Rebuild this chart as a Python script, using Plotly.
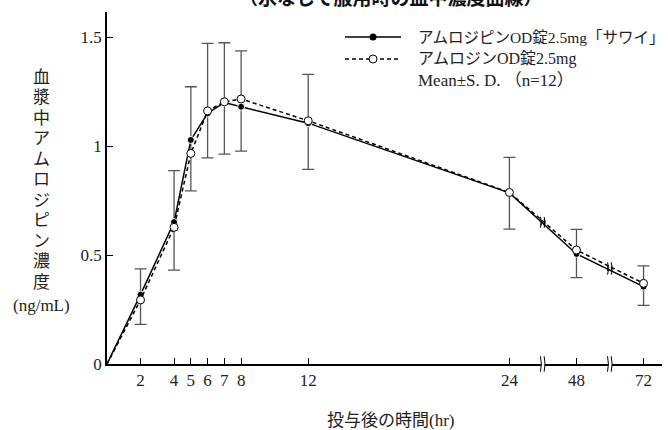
import plotly.graph_objects as go

# ---- data ----
hours = [0, 2, 4, 5, 6, 7, 8, 12, 24, 48, 72]
sawai_mean = [0, 0.318, 0.651, 1.028, 1.150, 1.200, 1.180, 1.105, 0.785, 0.505, 0.355]
ref_mean = [0, 0.294, 0.627, 0.966, 1.161, 1.203, 1.216, 1.116, 0.787, 0.523, 0.370]
sawai_sd = [0, 0.118, 0.236, 0.244, 0.321, 0.274, 0.257, 0.224, 0.163, 0.113, 0.095]
ref_sd = [0, 0.112, 0.196, 0.172, 0.215, 0.240, 0.239, 0.223, 0.168, 0.127, 0.101]
x_tick_hours = [2, 4, 5, 6, 7, 8, 12, 24, 48, 72]
y_tick_vals = [0, 0.5, 1, 1.5]
y_tick_text = ["0", "0.5", "1", "1.5"]
label_sawai = "アムロジピンOD錠2.5mg「サワイ」"
label_ref = "アムロジンOD錠2.5mg"
label_stat = "Mean±S. D. （n=12）"
title_text = "（水なしで服用時の血中濃度曲線）"
y_title_main = "血漿中アムロジピン濃度"
y_title_unit = "(ng/mL)"
x_title = "投与後の時間(hr)"

# ---- broken-axis mapping: hours after 24 are compressed (4 units per segment) ----
BREAK_AFTER = 24
SEG = 4
late = [h for h in hours if h > BREAK_AFTER]


def pos(h):
    if h <= BREAK_AFTER:
        return h
    return BREAK_AFTER + SEG * (late.index(h) + 1)


xp = [pos(h) for h in hours]
breaks = [BREAK_AFTER + SEG * (i + 0.5) for i in range(len(late))]

SERIF = "Liberation Serif, Noto Sans CJK JP, serif"
W, H = 668, 430
ML, MR, MT, MB = 107, 6, 12, 66
PW, PH = W - ML - MR, H - MT - MB


def px_to_paper_x(px):
    return (px - ML) / PW


def px_to_paper_y(py):
    return (H - MB - py) / PH


fig = go.Figure()

# error bars: upper = sawai mean + SD, lower = reference mean - SD
idx = list(range(1, len(hours)))
fig.add_trace(go.Scatter(
    x=[xp[i] for i in idx], y=[sawai_mean[i] for i in idx], mode="markers",
    marker=dict(size=1, opacity=0), showlegend=False, hoverinfo="skip",
    error_y=dict(type="data", symmetric=False,
                 array=[sawai_sd[i] for i in idx],
                 arrayminus=[sawai_mean[i] - (ref_mean[i] - ref_sd[i]) for i in idx],
                 color="#555555", thickness=1.3, width=6),
))

msize_f = [0] + [7] * (len(hours) - 1)
msize_o = [0] + [8] * (len(hours) - 1)
fig.add_trace(go.Scatter(
    x=xp, y=sawai_mean, mode="lines+markers", name=label_sawai,
    line=dict(color="black", width=1.5),
    marker=dict(symbol="circle", size=msize_f, color="black", opacity=1), showlegend=False))
fig.add_trace(go.Scatter(
    x=xp, y=ref_mean, mode="lines+markers", name=label_ref,
    line=dict(color="black", width=1.5, dash="4px,3px"),
    marker=dict(symbol="circle", size=msize_o, color="#ffffff", opacity=1,
                line=dict(color="black", width=1)),
    showlegend=False))

# ---- custom legend on an overlay axis in 0..1 units ----
LX0, LX1, LXM, LXT = px_to_paper_x(345), px_to_paper_x(401), px_to_paper_x(373), px_to_paper_x(416)
ROWS = [px_to_paper_y(37), px_to_paper_y(59), px_to_paper_y(80)]
fig.add_trace(go.Scatter(x=[LX0, LX1], y=[ROWS[0]] * 2, xaxis="x2", yaxis="y2", mode="lines",
                         line=dict(color="black", width=1.5), showlegend=False, hoverinfo="skip"))
fig.add_trace(go.Scatter(x=[LXM], y=[ROWS[0]], xaxis="x2", yaxis="y2", mode="markers",
                         marker=dict(size=7, color="black"), showlegend=False, hoverinfo="skip"))
fig.add_trace(go.Scatter(x=[LX0, LX1], y=[ROWS[1]] * 2, xaxis="x2", yaxis="y2", mode="lines",
                         line=dict(color="black", width=1.5, dash="4px,3px"), showlegend=False, hoverinfo="skip"))
fig.add_trace(go.Scatter(x=[LXM], y=[ROWS[1]], xaxis="x2", yaxis="y2", mode="markers",
                         marker=dict(size=8, color="white", line=dict(color="black", width=1)),
                         showlegend=False, hoverinfo="skip"))

annotations = []
for txt, ry, fs in zip([label_sawai, label_ref, label_stat], ROWS, [15.5, 16, 17]):
    annotations.append(dict(x=LXT, y=ry, xref="paper", yref="paper", text=txt, showarrow=False,
                            xanchor="left", yanchor="middle", font=dict(family=SERIF, size=fs, color="#222")))
annotations.append(dict(x=px_to_paper_x(390), y=px_to_paper_y(-3), xref="paper", yref="paper",
                        text=title_text, showarrow=False, xanchor="center", yanchor="middle",
                        font=dict(family="Noto Sans CJK JP", size=19, color="#111", weight="bold")))
# vertical y-axis title, one character per line
for i, ch in enumerate(y_title_main):
    annotations.append(dict(x=px_to_paper_x(41), y=px_to_paper_y(77 + 20.5 * i), xref="paper", yref="paper",
                            text=ch, showarrow=False, xanchor="center", yanchor="middle",
                            font=dict(family=SERIF, size=17, color="#222")))
annotations.append(dict(x=px_to_paper_x(41), y=px_to_paper_y(305), xref="paper", yref="paper",
                        text=y_title_unit, showarrow=False, xanchor="center", yanchor="middle",
                        font=dict(family=SERIF, size=17, color="#222")))
annotations.append(dict(x=px_to_paper_x(390), y=px_to_paper_y(420), xref="paper", yref="paper",
                        text=x_title, showarrow=False, xanchor="center", yanchor="middle",
                        font=dict(family=SERIF, size=17, color="#222")))

# ---- break marks on the axis and on both lines ----
shapes = []
GX = 0.11


def curve(xc, y0, y1, yref):
    ym = (y0 + y1) / 2
    return dict(type="path", xref="x", yref=yref,
                path=f"M {xc - 0.04},{y0} Q {xc + 0.07},{ym} {xc - 0.04},{y1}",
                line=dict(color="black", width=1))


for b in breaks:
    shapes.append(dict(type="rect", xref="x", yref="paper", x0=b - GX, x1=b + GX, y0=-0.01, y1=0.01,
                       fillcolor="white", line=dict(width=0)))
    shapes.append(curve(b - GX, -0.022, 0.022, "paper"))
    shapes.append(curve(b + GX, -0.022, 0.022, "paper"))
    k = xp.index(b - SEG / 2) if (b - SEG / 2) in xp else None
    if k is not None:
        for series in (sawai_mean, ref_mean):
            yb = series[k] + (series[k + 1] - series[k]) * 0.5
            shapes.append(curve(b - GX, yb - 0.02, yb + 0.02, "y"))
            shapes.append(curve(b + GX, yb - 0.02, yb + 0.02, "y"))

fig.update_layout(
    width=W, height=H,
    margin=dict(l=ML, r=MR, t=MT, b=MB),
    paper_bgcolor="white", plot_bgcolor="white",
    showlegend=False,
    xaxis=dict(range=[0, 33.1], tickvals=[pos(h) for h in x_tick_hours], ticktext=[str(h) for h in x_tick_hours],
               ticks="inside", ticklen=6, tickcolor="black", tickwidth=1,
               showline=True, linecolor="black", linewidth=1.5, showgrid=False, zeroline=False,
               tickfont=dict(family=SERIF, size=17, color="#222")),
    yaxis=dict(range=[0, 1.615], tickvals=y_tick_vals, ticktext=y_tick_text,
               ticks="inside", ticklen=6, tickcolor="black", tickwidth=1,
               showline=True, linecolor="black", linewidth=1.5, showgrid=False, zeroline=False,
               tickfont=dict(family=SERIF, size=17, color="#222")),
    xaxis2=dict(range=[0, 1], overlaying="x", visible=False),
    yaxis2=dict(range=[0, 1], overlaying="y", visible=False),
    annotations=annotations,
    shapes=shapes,
)

# remove the browser's default page margin so the figure sits at the window origin
fig.write_html("out.html", config={"displayModeBar": False},
               post_script="document.body.style.margin='0px';document.body.style.overflow='hidden';")
